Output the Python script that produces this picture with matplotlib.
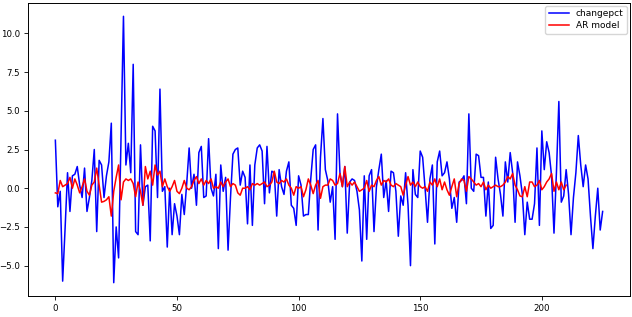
import numpy as np
import matplotlib
matplotlib.use('Agg')
import matplotlib.pyplot as plt

# percent change series
changepct = [
    3.1, -1.2, -0.2, -6.0, -2.6, 1.0, -1.5, 0.8, 0.9, 1.4,
    0.2, -0.6, 1.3, -1.5, -0.6, 0.5, 2.5, -2.8, 1.8, 1.5,
    -0.6, 0.8, 1.7, 4.2, -6.1, -2.5, -4.5, 3.3, 11.1, 1.5,
    2.9, 1.0, 8.0, -2.8, -3.0, 2.8, -1.1, 0.1, 0.2, -3.4,
    4.0, 3.7, -0.6, 6.4, -0.2, 0.1, -3.8, 0.0, -3.0, -1.0,
    -1.8, -3.0, -0.4, -1.7, 0.3, 2.6, 0.0, 0.9, -1.1, 2.3,
    2.7, -0.6, -0.5, 3.2, 0.0, -0.5, 0.9, -3.9, 1.5, -0.2,
    0.7, -4.0, -0.6, 2.2, 2.5, 2.6, 0.2, 1.1, 0.7, -2.3,
    1.5, -2.4, 1.5, 2.6, 2.8, 2.4, -1.0, 2.7, -0.3, 1.1,
    1.0, -1.8, 1.2, 0.1, -0.4, 1.1, 1.7, -1.1, -1.3, -2.4,
    0.8, 0.2, -1.8, -1.7, -1.7, 0.6, 2.5, 2.8, -2.7, 2.0,
    4.5, 1.2, 0.5, -0.9, 0.1, -3.3, 4.8, 1.0, 0.1, 1.4,
    -2.9, 0.4, 0.6, 0.5, -0.2, -1.4, -4.7, 0.8, -3.3, 0.8,
    1.2, -2.8, 0.1, 1.2, 2.2, -0.6, 0.5, -1.5, 1.1, 1.0,
    -0.2, -3.1, -0.5, -1.1, 1.0, -1.1, -5.0, 1.2, -0.4, -0.6,
    2.4, 2.0, 0.0, -2.2, 0.6, 1.5, -3.6, 1.7, 2.4, 0.8,
    1.0, 1.7, 0.6, -1.3, -0.6, -2.2, 0.4, 0.5, 0.8, -1.0,
    4.8, 0.0, -0.2, 2.2, 2.1, 0.7, 0.7, -1.8, 0.4, -2.6,
    -2.4, 2.0, 0.6, -0.4, -1.8, 1.7, 0.4, 2.3, 1.0, -2.2,
    1.7, 0.8, -0.4, -3.0, -0.9, -2.0, -2.0, -1.0, 2.6, -2.4,
    3.7, 1.2, 3.0, 2.3, 0.8, -2.9, 1.0, 5.6, -0.9, -0.5,
    1.2, -0.4, -3.0, -0.6, 1.0, 3.4, 1.5, 0.1, 1.5, 0.6,
    -1.8, -3.9, -1.8, 0.0, -2.7, -1.5,
]

# fitted AR model values
ar_model = [
    -0.3, -0.35, 0.5, 0.1, 0.2, 0.3, 0.7, 0.0, 0.6, 0.2,
    -0.3, 0.1, 0.6, -0.2, -0.45, 0.2, 0.4, 1.3, 0.2, -0.9,
    -0.85, -0.75, -0.55, -1.8, -0.2, 0.7, 1.5, -0.75, 0.4, 0.6,
    0.5, 0.6, 0.3, -0.55, 0.4, -0.2, -1.1, 1.4, 0.6, 1.1,
    0.2, 1.5, 0.85, 1.1, 0.1, 0.6, 0.1, -0.2, 0.1, 0.5,
    -0.2, -0.35, 0.0, 0.5, 0.0, -0.1, 0.1, 0.5, 0.75, 0.3,
    0.6, 0.2, 0.5, 0.3, 0.6, 0.0, 0.1, 0.0, 0.4, 0.1,
    0.4, 0.6, 0.1, 0.3, 0.2, -0.3, -0.45, 0.0, 0.0, 0.1,
    -0.1, 0.3, 0.2, 0.3, 0.2, 0.3, 0.4, 0.1, 0.2, 0.4,
    1.1, 0.4, 0.3, 0.5, 0.4, 0.6, 0.2, 0.0, -0.45, 0.1,
    0.0, 0.1, -0.55, -0.1, 0.6, 0.2, -0.35, 0.2, 0.5, -0.65,
    0.1, 0.2, 0.2, 0.6, 0.5, 0.2, 0.3, 0.95, 0.1, 1.4,
    0.1, 0.4, 0.2, 0.4, 0.1, -0.2, -0.1, 0.0, 0.5, -0.2,
    0.2, 0.1, 0.5, 0.75, 0.2, 0.5, 0.4, 0.6, 0.2, 0.1,
    0.3, 0.2, 0.1, -0.45, 0.2, 0.75, 0.2, 0.4, 0.1, 0.4,
    0.1, 0.0, 0.1, -0.2, 0.4, 0.2, 0.6, 0.1, 0.6, -0.1,
    0.4, -0.1, -0.45, 0.1, 0.6, -0.55, 0.3, 0.6, 0.5, -0.2,
    0.75, 0.6, 0.4, 0.2, 0.3, 0.1, 0.4, -0.1, 0.2, 0.0,
    0.1, 0.2, 0.1, 0.1, 0.2, 0.4, 0.75, 0.6, 0.95, 0.2,
    -0.1, -0.5, -0.55, 0.1, -0.55, 0.4, 0.4, 0.1, 0.2, 0.5,
    -0.1, 0.1, 0.4, 0.6, 0.95, -0.2, 0.4, -0.1, 0.4, -0.1,
    0.2,
]

fig = plt.figure(figsize=(6.32, 3.17), dpi=100)
ax = fig.add_axes([28 / 632, 21 / 317, 602 / 632, 293 / 317])

ax.plot(np.arange(len(changepct)), changepct, color='b', lw=1.1, label='changepct')
ax.plot(np.arange(len(ar_model)), ar_model, color='r', lw=1.1, label='AR model')

ax.set_xticks([0, 50, 100, 150, 200])
ax.set_yticks([-5.0, -2.5, 0.0, 2.5, 5.0, 7.5, 10.0])
ax.tick_params(labelsize=6.2, length=3, width=0.6, pad=2.5)
for s in ax.spines.values():
    s.set_linewidth(0.7)

ax.legend(loc='upper right', fontsize=6.5, handlelength=2.2, borderpad=0.4,
          labelspacing=0.3, fancybox=True, borderaxespad=0.3)

fig.savefig('out.png', dpi=100)
